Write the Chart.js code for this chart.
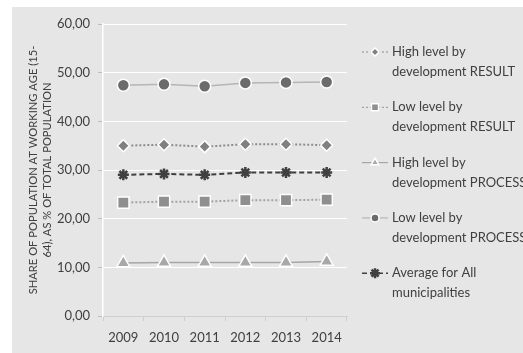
<!DOCTYPE html>
<html>
<head>
<meta charset="utf-8">
<script src="https://cdn.jsdelivr.net/npm/chart.js@4.4.1/dist/chart.umd.min.js"></script>
<style>
  html, body { margin: 0; padding: 0; background: #ffffff; }
  #wrap { position: relative; width: 523px; height: 353px; }
</style>
</head>
<body>
<div id="wrap"><canvas id="c" width="523" height="353"></canvas></div>
<script>
// Years on the horizontal axis
const years = ['2009', '2010', '2011', '2012', '2013', '2014'];

// Share of working-age population, % of total population
const highResult  = [35.0, 35.2, 34.8, 35.3, 35.3, 35.1];
const lowResult   = [23.3, 23.5, 23.5, 23.8, 23.8, 23.9];
const highProcess = [10.9, 11.0, 11.0, 11.0, 11.0, 11.2];
const lowProcess  = [47.4, 47.6, 47.2, 47.9, 48.0, 48.1];
const average     = [29.0, 29.2, 29.0, 29.5, 29.5, 29.5];

// Legend captions, two lines each
const legendLines = [
  ['High level by', 'development RESULT'],
  ['Low level by', 'development RESULT'],
  ['High level by', 'development PROCESS'],
  ['Low level by', 'development PROCESS'],
  ['Average for All', 'municipalities']
];

const yTitle = ['SHARE OF POPULATION AT WORKING AGE (15-', '64), AS % OF TOTAL POPULATION'];

const TEXT = '#404040';
const FONT = 'Lato, "Open Sans", sans-serif';

// Gray panel behind the whole chart
const panel = {
  id: 'panel',
  beforeDraw(chart) {
    const ctx = chart.ctx;
    ctx.save();
    ctx.fillStyle = '#e6e6e6';
    ctx.fillRect(12, 7, chart.width - 12, chart.height - 7);
    ctx.restore();
  }
};

// Two-line legend on the right, drawn from each dataset's own styles
const sideLegend = {
  id: 'sideLegend',
  afterDraw(chart) {
    const ctx = chart.ctx;
    const x0 = 362, x1 = 388, tx = 392;
    chart.data.datasets.forEach((ds, i) => {
      const y = 52 + i * 55.3;
      ctx.save();
      ctx.strokeStyle = ds.borderColor;
      ctx.lineWidth = ds.legendLineWidth;
      ctx.setLineDash(ds.borderDash || []);
      ctx.beginPath();
      ctx.moveTo(x0, y);
      ctx.lineTo(x1, y);
      ctx.stroke();
      ctx.setLineDash([]);
      ctx.fillStyle = ds.pointBackgroundColor;
      ctx.strokeStyle = ds.pointBorderColor;
      ctx.lineWidth = ds.pointBorderWidth;
      Chart.helpers.drawPoint(ctx, {
        pointStyle: ds.pointStyle,
        radius: ds.legendPointRadius,
        borderWidth: ds.pointBorderWidth,
        rotation: 0
      }, (x0 + x1) / 2, y);
      ctx.fillStyle = TEXT;
      ctx.font = '13px ' + FONT;
      ctx.textAlign = 'left';
      ctx.textBaseline = 'middle';
      legendLines[i].forEach((t, k) => ctx.fillText(t, tx, y + k * 20));
      ctx.restore();
    });
  }
};

new Chart(document.getElementById('c'), {
  type: 'line',
  data: {
    labels: years,
    datasets: [
      {
        label: legendLines[0].join(' '),
        data: highResult,
        borderColor: '#8c8c8c',
        borderWidth: 2,
        borderDash: [2, 2],
        legendLineWidth: 1.2,
        pointStyle: 'rectRot',
        pointRadius: 6,
        legendPointRadius: 4,
        pointBackgroundColor: '#808080',
        pointBorderColor: '#ffffff',
        pointBorderWidth: 1.5
      },
      {
        label: legendLines[1].join(' '),
        data: lowResult,
        borderColor: '#a3a3a3',
        borderWidth: 2,
        borderDash: [2, 2],
        legendLineWidth: 1.2,
        pointStyle: 'rect',
        pointRadius: 8,
        legendPointRadius: 5,
        pointBackgroundColor: '#8f8f8f',
        pointBorderColor: '#ffffff',
        pointBorderWidth: 1.5
      },
      {
        label: legendLines[2].join(' '),
        data: highProcess,
        borderColor: '#a6a6a6',
        borderWidth: 1.5,
        legendLineWidth: 1.2,
        pointStyle: 'triangle',
        pointRadius: 7.5,
        legendPointRadius: 4.5,
        pointBackgroundColor: '#a8a8a8',
        pointBorderColor: '#ffffff',
        pointBorderWidth: 1.5
      },
      {
        label: legendLines[3].join(' '),
        data: lowProcess,
        borderColor: '#b5b5b5',
        borderWidth: 1.5,
        legendLineWidth: 1.2,
        pointStyle: 'circle',
        pointRadius: 6,
        legendPointRadius: 4,
        pointBackgroundColor: '#6b6b6b',
        pointBorderColor: '#ffffff',
        pointBorderWidth: 1.5
      },
      {
        label: legendLines[4].join(' '),
        data: average,
        borderColor: '#404040',
        borderWidth: 2,
        borderDash: [5, 3],
        legendLineWidth: 1.5,
        pointStyle: 'star',
        pointRadius: 5.5,
        legendPointRadius: 5,
        pointBackgroundColor: '#404040',
        pointBorderColor: '#404040',
        pointBorderWidth: 2.5
      }
    ]
  },
  options: {
    responsive: false,
    animation: false,
    devicePixelRatio: 1,
    layout: { padding: { left: 0, top: 24, right: 176, bottom: 0 } },
    plugins: {
      legend: { display: false },
      tooltip: { enabled: false }
    },
    scales: {
      x: {
        offset: true,
        grid: {
          drawOnChartArea: false,
          drawTicks: true,
          tickLength: 5,
          color: '#cfcfcf',
          offset: true
        },
        border: { color: '#cfcfcf', width: 1 },
        ticks: {
          color: TEXT,
          font: { family: FONT, size: 13 },
          padding: 9,
          maxRotation: 0
        },
        afterFit(scale) { scale.height = 37; }
      },
      y: {
        min: 0,
        max: 60,
        ticks: {
          stepSize: 10,
          color: TEXT,
          font: { family: FONT, size: 13 },
          padding: 8,
          callback: v => v.toFixed(2).replace('.', ',')
        },
        grid: {
          color: '#ffffff',
          lineWidth: 1,
          drawTicks: true,
          tickLength: 5,
          tickColor: '#bdbdbd'
        },
        border: { color: '#ffffff', width: 1.5 },
        title: {
          display: true,
          text: yTitle,
          color: TEXT,
          font: { family: FONT, size: 11.2, lineHeight: 1.25 },
          padding: { top: 26, bottom: 0 }
        },
        afterFit(scale) { scale.width = 103; }
      }
    }
  },
  plugins: [panel, sideLegend]
});
</script>
</body>
</html>
